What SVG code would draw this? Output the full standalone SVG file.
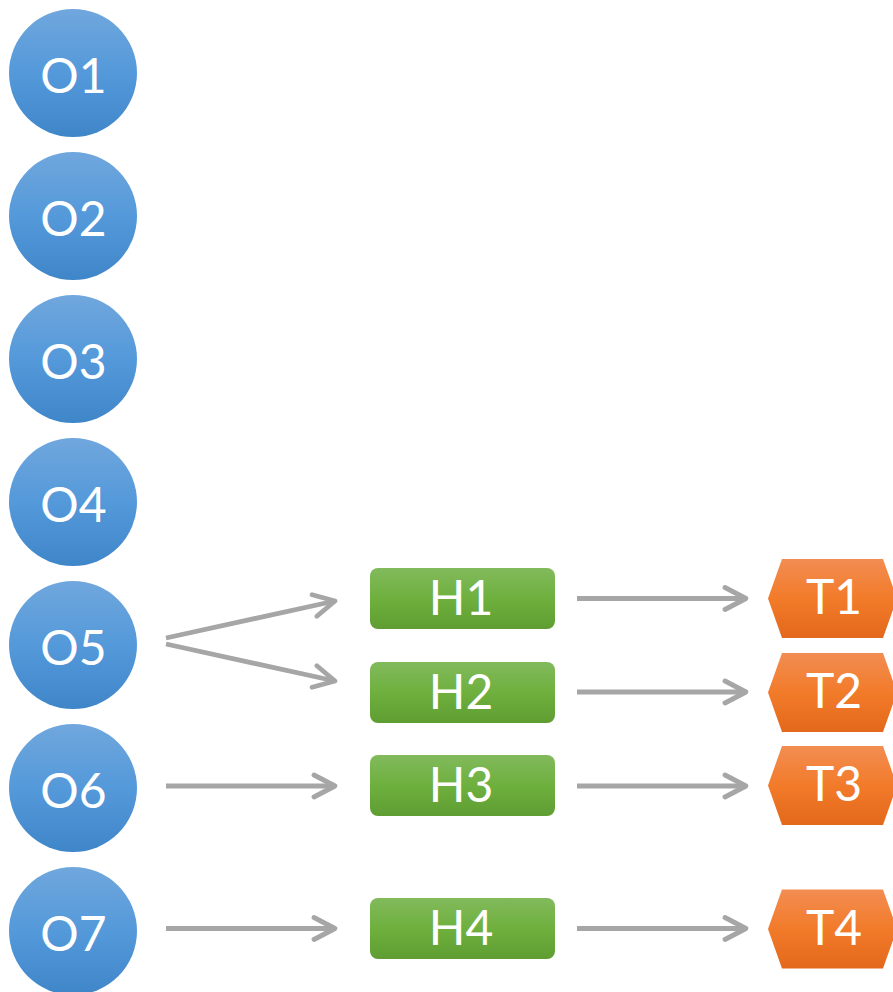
<svg xmlns="http://www.w3.org/2000/svg" width="893" height="992" viewBox="0 0 893 992">
  <defs>
    <linearGradient id="gBlue" x1="0" y1="0" x2="0" y2="1">
      <stop offset="0" stop-color="#70a7dd"/>
      <stop offset="0.5" stop-color="#5499da"/>
      <stop offset="1" stop-color="#3f86c9"/>
    </linearGradient>
    <linearGradient id="gGreen" x1="0" y1="0" x2="0" y2="1">
      <stop offset="0" stop-color="#82ba5c"/>
      <stop offset="0.5" stop-color="#6eb03e"/>
      <stop offset="1" stop-color="#5f9d32"/>
    </linearGradient>
    <linearGradient id="gOrange" x1="0" y1="0" x2="0" y2="1">
      <stop offset="0" stop-color="#f28d52"/>
      <stop offset="0.5" stop-color="#f27b2a"/>
      <stop offset="1" stop-color="#e3681b"/>
    </linearGradient>
    <marker id="chev" markerUnits="userSpaceOnUse" markerWidth="40" markerHeight="40" refX="0" refY="0" viewBox="-30 -20 40 40" orient="auto" overflow="visible">
      <path d="M-21,-11 L0,0 L-21,11" fill="none" stroke="#a6a6a6" stroke-width="4.8" stroke-linecap="round" stroke-linejoin="round"/>
    </marker>
  </defs>
  <style>
    .o { fill: url(#gBlue); }
    .h { fill: url(#gGreen); }
    .t { fill: url(#gOrange); }
    .lbl { fill: #ffffff; font-family: Lato, "Open Sans", "Liberation Sans", sans-serif; font-size: 48px; text-anchor: middle; }
    .edge { stroke: #a6a6a6; stroke-width: 4.8; fill: none; marker-end: url(#chev); }
  </style>

  <!-- origin circles -->
  <g id="O1"><circle class="o" cx="73" cy="73" r="64"/><text class="lbl" x="73.5" y="93">O1</text></g>
  <g id="O2"><circle class="o" cx="73" cy="216" r="64"/><text class="lbl" x="73.5" y="236">O2</text></g>
  <g id="O3"><circle class="o" cx="73" cy="359" r="64"/><text class="lbl" x="73.5" y="379">O3</text></g>
  <g id="O4"><circle class="o" cx="73" cy="502" r="64"/><text class="lbl" x="73.5" y="522">O4</text></g>
  <g id="O5"><circle class="o" cx="73" cy="645" r="64"/><text class="lbl" x="73.5" y="665">O5</text></g>
  <g id="O6"><circle class="o" cx="73" cy="788" r="64"/><text class="lbl" x="73.5" y="808">O6</text></g>
  <g id="O7"><circle class="o" cx="73" cy="931" r="64"/><text class="lbl" x="73.5" y="951">O7</text></g>

  <!-- intermediate boxes -->
  <g id="H1"><rect class="h" x="370" y="568" width="185" height="61" rx="8"/><text class="lbl" x="461" y="615">H1</text></g>
  <g id="H2"><rect class="h" x="370" y="662" width="185" height="61" rx="8"/><text class="lbl" x="461" y="709">H2</text></g>
  <g id="H3"><rect class="h" x="370" y="755" width="185" height="61" rx="8"/><text class="lbl" x="461" y="802">H3</text></g>
  <g id="H4"><rect class="h" x="370" y="898" width="185" height="61" rx="8"/><text class="lbl" x="461" y="945">H4</text></g>

  <!-- target hexagons -->
  <g id="T1"><polygon class="t" points="768,598.5 782,559 883,559 897,598.5 883,638 782,638"/><text class="lbl" x="834" y="614">T1</text></g>
  <g id="T2"><polygon class="t" points="768,692.5 782,653 883,653 897,692.5 883,732 782,732"/><text class="lbl" x="834" y="708">T2</text></g>
  <g id="T3"><polygon class="t" points="768,785.5 782,746 883,746 897,785.5 883,825 782,825"/><text class="lbl" x="834" y="801">T3</text></g>
  <g id="T4"><polygon class="t" points="768,929 782,889.5 883,889.5 897,929 883,968.5 782,968.5"/><text class="lbl" x="834" y="945">T4</text></g>

  <!-- connectors -->
  <g id="connectors">
    <path class="edge" d="M166,638 L335,601"/>
    <path class="edge" d="M166,644 L335,681"/>
    <path class="edge" d="M166,786 L335,786"/>
    <path class="edge" d="M166,928.5 L335,928.5"/>
    <path class="edge" d="M577,598.5 L746,598.5"/>
    <path class="edge" d="M577,692 L746,692"/>
    <path class="edge" d="M577,786 L746,786"/>
    <path class="edge" d="M577,928.5 L746,928.5"/>
  </g>
</svg>
